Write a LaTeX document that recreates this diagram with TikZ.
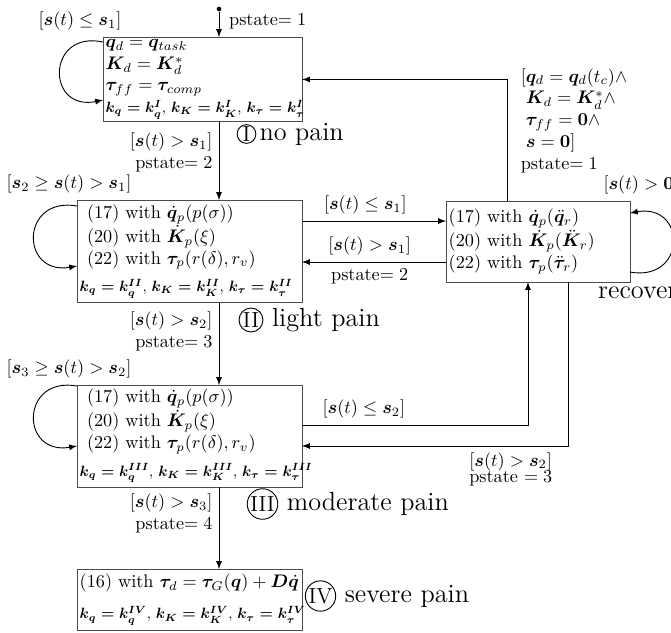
\documentclass[tikz,border=0pt]{standalone}
\usepackage{amsmath,amssymb}
\usepackage{bm}
\usepackage{graphicx}
\usetikzlibrary{arrows,calc,positioning}
\tikzset{
	statebox/.style={draw=black!70, rectangle, anchor=north west, align=left, inner sep=1.5pt, outer sep=0pt},
	numcirc/.style={draw, circle, inner sep=0.4pt, font=\large},
	paintext/.style={inner sep=1.5pt, font=\Large}
}
\newcommand{\kline}[1]{\scalebox{0.82}{\boldmath $k_q = k_q^{#1}$, $k_K = k_K^{#1}$, $k_\tau = k_\tau^{#1}$}}

\begin{document}
\begin{tikzpicture}[x=0.549pt, y=-0.549pt, >=latex, line width=0.5pt]
	\useasboundingbox (0,0) rectangle (671,632);
	% pain states
	\node[statebox, text width=106.3pt, minimum height=44.5pt] (none) at (103,37) {$\bm{q}_d = \bm{q}_{task}$\\ $\bm{K}_d = \bm{K}_d^*$\\[-0.5pt] $\bm{\tau}_{ff} = \bm{\tau}_{comp}$\\ \kline{I}};
	\node[statebox, text width=120.5pt, minimum height=56.5pt] (light) at (77,200) {\hspace*{4pt}(17) with $\dot{\bm{q}}_p(p(\sigma))$\\ \hspace*{4pt}(20) with $\dot{\bm{K}}_p(\xi)$\\ \hspace*{4pt}(22) with $\bm{\tau}_p(r(\delta), r_v)$\\[3pt] \kline{II}};
	\node[statebox, text width=120.5pt, minimum height=56pt] (moderate) at (77,385) {\hspace*{4pt}(17) with $\dot{\bm{q}}_p(p(\sigma))$\\ \hspace*{4pt}(20) with $\dot{\bm{K}}_p(\xi)$\\ \hspace*{4pt}(22) with $\bm{\tau}_p(r(\delta), r_v)$\\[3pt] \kline{III}};
	\node[statebox, text width=120.5pt, minimum height=34pt] (severe) at (77,569) {(16) with $\bm{\tau}_d = \bm{\tau}_G(\bm{q}) + \bm{D}\dot{\bm{q}}$\\[5pt] \kline{IV}};
	\node[statebox, text width=98pt, minimum height=44.5pt] (recov) at (446,201) {(17) with $\dot{\bm{q}}_p(\ddot{\bm{q}}_r)$\\ (20) with $\dot{\bm{K}}_p(\ddot{\bm{K}}_r)$\\ (22) with $\bm{\tau}_p(\ddot{\bm{\tau}}_r)$};

	% state names
	\node[numcirc] (cI) at (246.5,134) {I};
	\node[paintext, right=0pt of cI] (tI) {no pain};
	\node[numcirc] (cII) at (251,320) {II};
	\node[paintext, right=3pt of cII] (tII) {light pain};
	\node[numcirc] (cIII) at (262.5,504) {III};
	\node[paintext, right=3pt of cIII] (tIII) {moderate pain};
	\node[numcirc] (cIV) at (320.5,596) {IV};
	\node[paintext, right=3pt of cIV] (tIV) {severe pain};
	\node[paintext, anchor=north west] (tRec) at ($(recov.south east)+(-35,2)$) {recover};

	% start
	\coordinate (spine) at (219,0);
	\node[circle, fill, inner sep=0.9pt] (init) at (219,9) {};
	\draw[->] (init) -- (init |- none.north) node[right, pos=0.4, xshift=2pt] (p1) {pstate$=1$};

	% loops
	\draw[->] ($(none.north west)+(0,5)$) .. controls +(-57,-12) and +(-57,12) .. ($(none.north west)+(0,63)$);
	\node[anchor=south] (lI) at ($(none.north west)+(-23,0)$) {$[\bm{s}(t) \leq \bm{s}_1]$};
	\draw[->] ($(light.north west)+(0,6)$) .. controls +(-57,-10) and +(-57,10) .. ($(light.north west)+(0,66)$);
	\node[anchor=south] (lII) at ($(light.north west)+(-8,0)$) {$[\bm{s}_2 \geq \bm{s}(t) > \bm{s}_1]$};
	\draw[->] ($(moderate.north west)+(0,1)$) .. controls +(-57,-10) and +(-57,10) .. ($(moderate.north west)+(0,61)$);
	\node[anchor=south] (lIII) at ($(moderate.north west)+(-8,0)$) {$[\bm{s}_3 \geq \bm{s}(t) > \bm{s}_2]$};
	\draw[->] ($(recov.south east)+(0,-10)$) .. controls +(57,10) and +(57,-10) .. ($(recov.north east)+(0,12)$);
	\node[anchor=south west] (lR) at ($(recov.north east)+(-33,0)$) {$[\bm{s}(t) > \bm{0}]$};

	% worse
	\draw[->] (none.south -| spine) -- (light.north -| spine) node[left, pos=0.39, align=right] (c12) {$[\bm{s}(t) > \bm{s}_1]$\\ pstate$=2$};
	\draw[->] (light.south -| spine) -- (moderate.north -| spine) node[left, pos=0.35, align=right] (c23) {$[\bm{s}(t) > \bm{s}_2]$\\ pstate$=3$};
	\draw[->] (moderate.south -| spine) -- (severe.north -| spine) node[left, pos=0.32, align=right] (c34) {$[\bm{s}(t) > \bm{s}_3]$\\ pstate$=4$};

	% to and from recover
	\coordinate (rIn) at ($(recov.west)+(0,-20.5)$);
	\coordinate (rOut) at ($(recov.west)+(0,20.5)$);
	\coordinate (rB1) at ($(recov.south)+(-10,0)$);
	\coordinate (rB2) at ($(recov.south)+(30,0)$);
	\coordinate (rTop) at ($(recov.north)+(-31,0)$);
	\coordinate (mIn) at ($(moderate.east)+(0,-11)$);
	\coordinate (mOut) at ($(moderate.east)+(0,10)$);
	\draw[->] (light.east |- rIn) -- (rIn) node[above, pos=0.44] (c2r) {$[\bm{s}(t) \leq \bm{s}_1]$};
	\draw[->] (rOut) -- (light.east |- rOut) node[above, pos=0.53] (cr2) {$[\bm{s}(t) > \bm{s}_1]$} node[below, pos=0.53] (pr2) {pstate$=2$};
	\draw[->] (mIn) -| (rB1) node[above, pos=0.137] (c3r) {$[\bm{s}(t) \leq \bm{s}_2]$};
	\draw[->] (rB2) |- (mOut) node[below left, pos=0.5, xshift=-5pt, align=left] (cr3) {$[\bm{s}(t) > \bm{s}_2]$\\[-3pt] pstate $= 3$};
	\draw[->] (rTop) |- (none.east) node[right, pos=0.33, xshift=4pt, align=left] (cr1) {$[\bm{q}_d = \bm{q}_d(t_c)\wedge$\\ $\phantom{[}\bm{K}_d = \bm{K}_d^*\wedge$\\ $\phantom{[}\bm{\tau}_{ff} = \bm{0}\wedge$\\ $\phantom{[}\bm{s} = \bm{0}]$\\ pstate$=1$};
\end{tikzpicture}
\end{document}
